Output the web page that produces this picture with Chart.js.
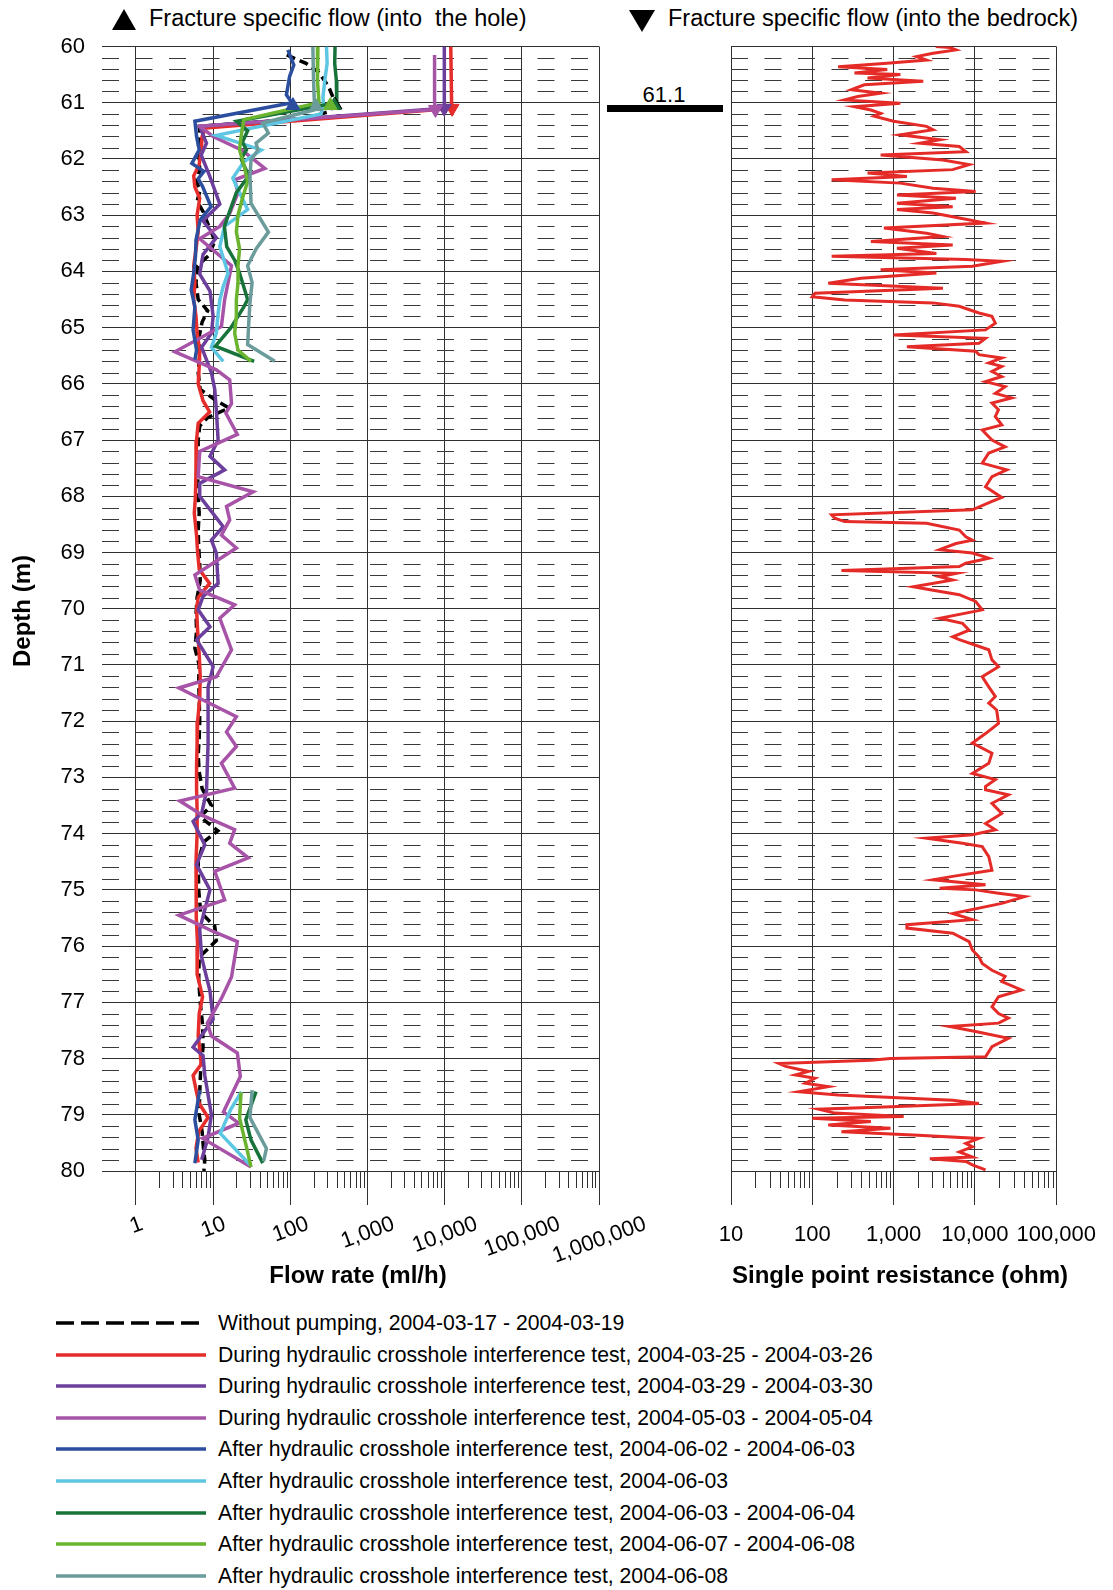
<!DOCTYPE html>
<html>
<head>
<meta charset="utf-8">
<title>Flow rate and single point resistance</title>
<script src="https://cdn.jsdelivr.net/npm/chart.js@4/dist/chart.umd.min.js"></script>
<style>
  body { margin: 0; background: #fff; width: 1113px; height: 1590px; position: relative; overflow: hidden;
         font-family: "Liberation Sans", Arial, Helvetica, sans-serif; color: #000; }
  .abs { position: absolute; white-space: pre; }
  canvas { position: absolute; top: 0; }
  .title { font-size: 23.5px; line-height: 23.5px; }
  .axisTitle { font-size: 24px; line-height: 24px; font-weight: bold; text-align: center; }
  .legendRow { font-size: 21.2px; line-height: 24px; height: 24px; }
  .legendRow svg { position: absolute; left: 0; top: 0; }
  .legendRow span { position: absolute; left: 162px; top: 0; }
</style>
</head>
<body>

<div class="abs" style="left:112px;top:9px;width:0;height:0;border-left:12px solid transparent;border-right:12px solid transparent;border-bottom:21px solid #000;"></div>
<div class="abs title" style="left:149px;top:7px;">Fracture specific flow (into  the hole)</div>
<div class="abs" style="left:629px;top:10px;width:0;height:0;border-left:13px solid transparent;border-right:13px solid transparent;border-top:22px solid #000;"></div>
<div class="abs title" style="left:668px;top:7px;">Fracture specific flow (into the bedrock)</div>

<div class="abs" style="left:614px;top:84px;width:100px;text-align:center;font-size:22px;line-height:22px;">61.1</div>
<div class="abs" style="left:607px;top:105px;width:116px;height:7px;background:#000;"></div>

<canvas id="flowChart" width="680" height="1290" style="left:0;width:680px;height:1290px;"></canvas>
<canvas id="resChart" width="413" height="1290" style="left:700px;width:413px;height:1290px;"></canvas>

<div class="abs axisTitle" style="left:208px;top:1263px;width:300px;">Flow rate (ml/h)</div>
<div class="abs axisTitle" style="left:700px;top:1263px;width:400px;">Single point resistance (ohm)</div>
<div class="abs axisTitle" style="left:-78px;top:599px;width:200px;transform:rotate(-90deg);">Depth (m)</div>

<div id="legend"></div>

<script>
const FONT = '"Liberation Sans", Arial, Helvetica, sans-serif';

// Legend / series
const seriesNames = [
  'Without pumping, 2004-03-17 - 2004-03-19',
  'During hydraulic crosshole interference test, 2004-03-25 - 2004-03-26',
  'During hydraulic crosshole interference test, 2004-03-29 - 2004-03-30',
  'During hydraulic crosshole interference test, 2004-05-03 - 2004-05-04',
  'After hydraulic crosshole interference test, 2004-06-02 - 2004-06-03',
  'After hydraulic crosshole interference test, 2004-06-03',
  'After hydraulic crosshole interference test, 2004-06-03 - 2004-06-04',
  'After hydraulic crosshole interference test, 2004-06-07 - 2004-06-08',
  'After hydraulic crosshole interference test, 2004-06-08'
];
const seriesColors = ['#000000', '#e52d2b', '#6c3f9c', '#a754a8', '#2c4e9f', '#5dc6e2', '#18733b', '#6ab42f', '#6b9c9b'];

// Tick labels
const flowTicks = [1, 10, 100, 1000, 10000, 100000, 1000000];
const resTicks = [10, 100, 1000, 10000, 100000];

// Flow rate (ml/h) against depth (m)
const noPumpDepth = [60.15, 60.3, 60.45, 60.7, 60.95, 61.15, 61.28, 61.42, 61.6, 61.8, 62.0, 62.2, 62.4, 62.55, 62.75, 62.95, 63.2, 63.45, 63.7, 63.9, 64.2, 64.5, 64.7, 64.9, 65.2, 65.5, 65.8, 66.1, 66.3, 66.43, 66.6, 66.75, 67.0, 67.3, 67.6, 68.0, 68.3, 68.6, 68.9, 69.2, 69.5, 69.8, 70.1, 70.4, 70.7, 71.0, 71.3, 71.6, 72.0, 72.3, 72.6, 72.9, 73.2, 73.5, 73.7, 73.95, 74.15, 74.5, 75.0, 75.4, 75.65, 75.9, 76.2, 76.6, 77.0, 77.4, 77.8, 78.2, 78.6, 79.0, 79.3, 79.6, 79.8, 80.0];
const noPumpFlow = [90, 160, 230, 310, 370, 330, 160, 6.6, 6.8, 6.4, 6.6, 6.7, 6.0, 6.8, 6.2, 7.5, 8.8, 10.5, 9.0, 6.3, 6.0, 6.4, 8.5, 7.2, 6.5, 6.7, 6.4, 6.8, 11, 16, 8.5, 6.7, 6.4, 6.4, 6.3, 6.4, 6.6, 6.4, 6.5, 6.7, 6.8, 6.2, 6.0, 6.1, 5.8, 6.6, 6.5, 6.6, 6.7, 6.6, 6.4, 6.6, 7.2, 9.5, 6.8, 11.5, 7.5, 6.4, 6.5, 6.9, 10.5, 11.0, 6.6, 6.5, 6.8, 7.3, 7.4, 6.9, 6.7, 6.6, 7.2, 7.5, 7.8, 7.6];

const test0325Depth = [60.0, 61.0, 61.1, 61.45, 61.6, 61.85, 62.1, 62.3, 62.5, 62.7, 63.0, 63.3, 63.6, 63.9, 64.2, 64.5, 64.8, 65.1, 65.4, 65.7, 66.0, 66.3, 66.5, 66.7, 67.0, 67.5, 68.0, 68.3, 68.7, 69.0, 69.3, 69.55, 69.8, 70.0, 70.4, 70.8, 71.2, 71.6, 72.0, 72.4, 72.8, 73.2, 73.6, 74.0, 74.5, 75.0, 75.5, 76.0, 76.5, 76.9, 77.2, 77.6, 77.9, 78.1, 78.3, 78.6, 78.8, 79.05, 79.3, 79.6, 79.85];
const test0325Flow = [12000, 12300, 12500, 8.0, 7.2, 7.0, 6.6, 5.6, 5.8, 6.7, 6.2, 6.4, 6.0, 5.6, 5.8, 5.6, 6.0, 6.2, 6.7, 6.6, 6.4, 7.4, 9.0, 6.4, 6.1, 6.0, 5.9, 5.7, 6.1, 6.3, 6.6, 9.0, 6.4, 6.1, 6.3, 6.6, 6.8, 6.7, 6.3, 6.2, 6.1, 6.1, 6.2, 6.2, 6.0, 6.0, 6.1, 6.3, 6.2, 7.3, 6.6, 6.4, 6.8, 7.0, 5.5, 6.1, 6.6, 8.6, 6.5, 6.0, 6.4];

const test0329Depth = [60.0, 61.0, 61.1, 61.42, 61.72, 61.93, 62.3, 62.8, 63.1, 63.4, 63.7, 64.05, 64.35, 64.8, 65.1, 65.35, 65.8, 66.1, 66.46, 67.0, 67.29, 67.53, 67.77, 68.0, 68.54, 68.78, 69.01, 69.55, 69.78, 70.02, 70.32, 70.55, 71.03, 71.39, 72.39, 73.25, 73.64, 73.78, 74.2, 74.55, 75.0, 75.7, 76.2, 76.8, 77.3, 77.8, 77.95, 78.3, 79.0, 79.4, 79.8];
const test0329Flow = [9900, 9900, 9900, 6.7, 8.2, 7.0, 9.0, 12.2, 7.4, 11.0, 7.4, 6.7, 9.1, 10.0, 9.5, 7.1, 9.5, 10.5, 11.0, 11.6, 9.1, 14.1, 6.7, 6.7, 13.5, 9.5, 11.0, 11.6, 7.4, 6.4, 9.1, 6.1, 10.0, 8.6, 8.6, 8.2, 7.1, 5.5, 7.8, 6.1, 9.1, 6.7, 7.1, 9.1, 10.0, 5.5, 7.4, 7.8, 9.5, 8.6, 7.1];

const test0503Depth = [60.15, 61.0, 61.12, 61.42, 61.6, 61.85, 62.17, 62.37, 62.6, 62.97, 63.2, 63.42, 63.9, 64.5, 64.98, 65.43, 65.75, 65.93, 66.35, 66.52, 66.9, 67.2, 67.65, 67.92, 68.18, 68.42, 68.69, 68.92, 69.4, 69.67, 69.93, 70.17, 70.73, 71.21, 71.41, 71.92, 72.19, 72.45, 72.75, 73.19, 73.42, 73.68, 73.93, 74.17, 74.43, 74.67, 75.18, 75.45, 75.74, 75.92, 76.55, 76.93, 77.37, 77.6, 77.9, 78.32, 78.95, 79.15, 79.42, 79.93];
const test0503Flow = [7400, 7400, 7600, 6.7, 10.0, 24, 46.8, 19, 21, 16.4, 12.2, 6.7, 17.3, 14.1, 12.8, 3.2, 11.0, 16.4, 17.3, 14.6, 20.6, 6.7, 6.4, 33, 14.9, 16.4, 12.8, 20.0, 5.8, 6.7, 19.0, 12.2, 17.3, 11.0, 3.6, 20.0, 14.9, 20.0, 12.8, 19.0, 3.7, 7.4, 19.0, 16.4, 28.5, 10.5, 14.1, 3.6, 10.0, 20.6, 17.3, 12.8, 8.4, 9.5, 20.6, 22.5, 13.6, 21.5, 7.3, 31];

const after0602Depth = [60.06, 60.33, 60.53, 60.86, 61.0, 61.33, 61.6, 61.84, 62.08, 62.22, 62.35, 62.49, 62.85, 63.08, 63.44, 63.74, 64.03, 64.33, 64.63, 65.04, 65.4, 65.57, null, 78.56, 79.09, 79.45, 79.86];
const after0602Flow = [93, 111, 98, 89, 105, 5.8, 6.1, 6.6, 5.3, 7.6, 6.4, 7.3, 9.4, 6.8, 6.0, 5.9, 5.6, 5.2, 5.8, 5.5, 6.1, 5.8, null, 6.7, 5.8, 6.4, 5.8];

const after0603Depth = [60.0, 60.3, 60.6, 60.9, 61.05, 61.2, 61.58, 61.84, 62.05, 62.34, 62.6, 62.9, 63.2, 63.56, 64.03, 64.27, 64.51, 64.8, 65.1, 65.35, 65.6, null, 78.59, 78.9, 79.33, 79.89];
const after0603Flow = [294, 300, 280, 265, 270, 250, 11, 42, 25, 18, 22, 28, 14, 12.2, 15.6, 13.5, 12.2, 11.5, 11, 9.5, 13.5, null, 23.3, 17, 12.4, 30];

const after0604Depth = [60.0, 60.3, 60.6, 61.0, 61.33, 61.5, 61.7, 61.84, 62.0, 62.3, 62.6, 62.97, 63.2, 63.56, 63.8, 64.03, 64.5, 64.63, 65.0, 65.33, 65.6, null, 78.59, 79.09, 79.45, 79.86];
const after0604Flow = [380, 376, 395, 400, 20, 28, 24, 27, 23, 29, 20, 16, 14, 15, 19, 22, 28, 25, 17, 10.7, 34, null, 36, 26.5, 31, 44];

const after0607Depth = [60.0, 60.6, 61.0, 61.3, 61.6, 61.84, 62.1, 62.4, 62.7, 63.0, 63.3, 63.6, 63.9, 64.2, 64.5, 64.8, 65.1, 65.4, 65.6, null, 78.6, 79.06, 79.57, 79.93];
const after0607Flow = [228, 225, 235, 25, 23, 22, 25, 28, 24, 21, 20, 22, 21, 21, 20, 20, 19, 21, 31, null, 23, 22, 27, 31];

const after0608Depth = [60.0, 60.6, 61.0, 61.13, 61.36, 61.54, 61.72, 61.84, 62.02, 62.3, 62.79, 63.3, 63.6, 63.9, 64.2, 64.55, 64.9, 65.3, 65.6, null, 78.56, 79.05, 79.6, 79.83];
const after0608Flow = [196, 200, 205, 200, 44, 52, 36, 38, 31, 30, 31, 52, 36, 28, 32, 30, 29, 28, 63, null, 32, 30, 49, 45];

// Fracture markers at 61.1 m
const bedrockMarkDepth = [61.1, 61.1, 61.12];
const bedrockMarkFlow = [12500, 9900, 7600];
const bedrockMarkColors = ['#e52d2b', '#6c3f9c', '#a754a8'];
const holeMarkDepth = [61.04, 61.05, 61.07, 61.05, 61.05];
const holeMarkFlow = [380, 108, 215, 370, 330];
const holeMarkColors = ['#000000', '#2c4e9f', '#6b9c9b', '#18733b', '#6ab42f'];

// Single point resistance (ohm) against depth (m)
const resDepth = [60.00, 60.02, 60.06, 60.12, 60.18, 60.24, 60.30, 60.36, 60.41, 60.47, 60.50, 60.56, 60.62, 60.68, 60.77, 60.83, 60.89, 60.95, 61.01, 61.07, 61.13, 61.19, 61.24, 61.33, 61.42, 61.48, 61.57, 61.66, 61.72, 61.78, 61.87, 61.93, 62.02, 62.10, 62.19, 62.25, 62.31, 62.37, 62.43, 62.52, 62.58, 62.64, 62.70, 62.79, 62.85, 62.90, 62.96, 63.05, 63.14, 63.23, 63.32, 63.38, 63.47, 63.53, 63.59, 63.68, 63.73, 63.79, 63.82, 63.91, 63.97, 64.03, 64.12, 64.21, 64.30, 64.39, 64.45, 64.51, 64.56, 64.62, 64.74, 64.80, 64.92, 65.04, 65.13, 65.19, 65.28, 65.34, 65.42, 65.48, 65.54, 65.63, 65.69, 65.78, 65.87, 65.96, 66.05, 66.17, 66.25, 66.34, 66.46, 66.58,
  66.73, 66.82, 67.00, 67.12, 67.23, 67.41, 67.53, 67.65, 67.83, 68.02, 68.09, 68.24, 68.33, 68.39, 68.45, 68.48, 68.60, 68.72, 68.78, 68.84, 68.95, 69.01, 69.10, 69.19, 69.25, 69.32, 69.37, 69.43, 69.49, 69.61, 69.67, 69.75, 69.87, 70.02, 70.17, 70.26, 70.38, 70.50, 70.55, 70.73, 70.91, 71.03, 71.21, 71.39, 71.56, 71.68, 71.80, 72.04, 72.22, 72.39, 72.57, 72.75, 72.93, 73.04, 73.16,
  73.22, 73.31, 73.46, 73.64, 73.82, 73.93, 74.02, 74.08, 74.17, 74.23, 74.41, 74.65, 74.76, 74.82, 74.91, 74.97, 75.00, 75.06, 75.12, 75.24, 75.42, 75.53, 75.62, 75.68, 75.77, 75.92, 76.07, 76.19, 76.31, 76.43, 76.54, 76.63, 76.78, 76.90, 77.08, 77.20, 77.28, 77.37, 77.43, 77.52, 77.64, 77.79, 77.97, 78.00, 78.03, 78.09, 78.14, 78.23, 78.29, 78.35, 78.44, 78.50, 78.59, 78.65, 78.74, 78.80, 78.86, 78.90, 78.97, 79.03, 79.06, 79.12, 79.18, 79.24, 79.30, 79.36, 79.42, 79.51, 79.57, 79.66, 79.75, 79.78, 79.83, 79.89, 79.98];
const resOhm = [3300, 5000, 5850, 3060, 1920, 2540, 834, 208, 834, 330, 1210, 478, 2315, 436, 301, 693, 362, 250, 1210, 330, 525, 693, 576, 1000, 2540, 3056, 1210, 3680, 2110, 6420, 7730, 693, 4040, 8480, 5330, 478, 1456, 173, 1210, 3056, 10200, 1100, 5850, 1100, 5330, 1100, 3056, 6420, 13500, 760, 2540, 4040, 525, 5330, 1100, 3355, 173, 7730, 21400, 9300, 693, 3355, 397, 157, 4040, 108, 100, 250, 3056, 6420, 11200, 16200, 17800, 13500, 1000, 13500, 11200, 1456, 10200, 11200, 21400, 14800, 21400, 16200, 21400, 13500, 23500, 17800, 28300, 16200, 19500, 17800,
  21400, 12300, 16200, 23500, 14800, 12300, 24600, 16200, 13500, 21400, 16200, 9300, 173, 189, 250, 2540, 6420, 7730, 9300, 5850, 3680, 9300, 14800, 7730, 6420, 228, 5850, 3680, 5330, 1753, 3056, 6420, 10200, 12300, 3680, 7040, 8480, 5330, 6420, 14800, 16200, 19500, 12300, 14800, 17800, 14800, 18500, 19500, 13500, 9300, 16200, 14800, 9300, 17800, 13500,
  13500, 25800, 16200, 21400, 13500, 17800, 9300, 2540, 7040, 12300, 14800, 16200, 5330, 3056, 13500, 3680, 10200, 19500, 41000, 21400, 5330, 9300, 1456, 1456, 5330, 8480, 9300, 11200, 12300, 16200, 23500, 21400, 37400, 19500, 16200, 19500, 25800, 19500, 4860, 10200, 25800, 16200, 13500, 915, 525, 39, 47, 90, 62, 108, 82, 157, 68, 208, 5330, 11200, 760, 119, 189, 1330, 100, 525, 157, 915, 228, 1753, 11200, 7730, 9300, 6420, 9300, 2790, 7730, 9300, 13500];

// dashed 0.2 m lines, minor log ticks and slanted labels
const logGrid = {
  id: 'logGrid',
  beforeDatasetsDraw(chart) {
    const { ctx, chartArea: a, scales: { y } } = chart;
    ctx.save();
    ctx.strokeStyle = '#3a3a3a';
    ctx.lineWidth = 1.2;
    ctx.setLineDash([17, 16.5]);
    for (let i = 1; i < 100; i++) {
      if (i % 5 === 0) continue;
      const py = Math.round(y.getPixelForValue(60 + i * 0.2)) + 0.5;
      ctx.beginPath();
      ctx.moveTo(a.left, py);
      ctx.lineTo(a.right, py);
      ctx.stroke();
    }
    ctx.restore();
  },
  afterDraw(chart, args, opts) {
    const { ctx, chartArea: a, scales: { x } } = chart;
    ctx.save();
    ctx.strokeStyle = '#303030';
    ctx.lineWidth = 1;
    for (let e = opts.from; e < opts.to; e++) {
      for (let k = 2; k < 10; k++) {
        const px = Math.round(x.getPixelForValue(k * Math.pow(10, e))) + 0.5;
        ctx.beginPath();
        ctx.moveTo(px, a.bottom);
        ctx.lineTo(px, a.bottom + 17);
        ctx.stroke();
      }
    }
    if (opts.slanted) {
      const ang = 20 * Math.PI / 180;
      ctx.font = '22px ' + FONT;
      ctx.fillStyle = '#000';
      ctx.textAlign = 'center';
      ctx.textBaseline = 'middle';
      opts.slanted.forEach(v => {
        const txt = v.toLocaleString('en-US');
        const w = ctx.measureText(txt).width;
        const h = w * Math.sin(ang) + 16 * Math.cos(ang);
        ctx.save();
        ctx.translate(x.getPixelForValue(v), a.bottom + 44 + h / 2);
        ctx.rotate(-ang);
        ctx.fillText(txt, 0, 1);
        ctx.restore();
      });
    }
    ctx.restore();
  }
};

const flowSets = [
  [noPumpDepth, noPumpFlow],
  [test0325Depth, test0325Flow],
  [test0329Depth, test0329Flow],
  [test0503Depth, test0503Flow],
  [after0602Depth, after0602Flow],
  [after0603Depth, after0603Flow],
  [after0604Depth, after0604Flow],
  [after0607Depth, after0607Flow],
  [after0608Depth, after0608Flow]
];

const flowDatasets = flowSets.map(([depth, flow], i) => ({
  label: seriesNames[i],
  data: depth.map((d, k) => ({ x: flow[k], y: d })),
  borderColor: seriesColors[i],
  borderWidth: 3.5,
  borderDash: i === 0 ? [9, 5] : [],
  pointRadius: 0,
  tension: 0,
  spanGaps: false,
  order: 10 - i
}));

flowDatasets.push({
  label: 'into the bedrock',
  data: bedrockMarkDepth.map((d, k) => ({ x: bedrockMarkFlow[k], y: d })),
  showLine: false,
  pointStyle: 'triangle',
  pointRotation: 180,
  pointRadius: 8,
  pointBorderWidth: 1,
  pointBackgroundColor: bedrockMarkColors,
  pointBorderColor: bedrockMarkColors,
  order: 0
});
flowDatasets.push({
  label: 'into the hole',
  data: holeMarkDepth.map((d, k) => ({ x: holeMarkFlow[k], y: d })),
  showLine: false,
  pointStyle: 'triangle',
  pointRadius: 8,
  pointBorderWidth: 1,
  pointBackgroundColor: holeMarkColors,
  pointBorderColor: holeMarkColors,
  order: 0
});

const gridColor = '#303030';

new Chart(document.getElementById('flowChart'), {
  type: 'line',
  data: { datasets: flowDatasets },
  plugins: [logGrid],
  options: {
    responsive: false,
    animation: false,
    indexAxis: 'y',
    layout: { padding: { left: 0, top: 46.5, right: 81, bottom: 0 }, autoPadding: false },
    plugins: {
      legend: { display: false },
      tooltip: { enabled: false },
      logGrid: { from: 0, to: 6, slanted: flowTicks }
    },
    scales: {
      x: {
        type: 'logarithmic',
        position: 'bottom',
        min: 0.363,
        max: 1000000,
        afterBuildTicks: s => { s.ticks = flowTicks.map(v => ({ value: v })); },
        afterFit: s => { s.height = 119; },
        ticks: { display: false },
        grid: { color: gridColor, tickColor: gridColor, tickLength: 34 },
        border: { color: gridColor }
      },
      y: {
        type: 'linear',
        min: 60,
        max: 80,
        reverse: true,
        afterFit: s => { s.width = 102; },
        ticks: { stepSize: 1, padding: 17, color: '#000', font: { family: FONT, size: 22 } },
        grid: { color: gridColor, drawTicks: false },
        border: { display: false }
      }
    }
  }
});

new Chart(document.getElementById('resChart'), {
  type: 'line',
  data: {
    datasets: [{
      label: 'Single point resistance',
      data: resDepth.map((d, k) => ({ x: resOhm[k], y: d })),
      borderColor: '#e52b27',
      borderWidth: 3,
      pointRadius: 0,
      tension: 0
    }]
  },
  plugins: [logGrid],
  options: {
    responsive: false,
    animation: false,
    indexAxis: 'y',
    layout: { padding: { left: 31, top: 46.5, right: 51, bottom: 0 }, autoPadding: false },
    plugins: {
      legend: { display: false },
      tooltip: { enabled: false },
      logGrid: { from: 1, to: 5, slanted: null }
    },
    scales: {
      x: {
        type: 'logarithmic',
        position: 'bottom',
        min: 10,
        max: 100000,
        afterBuildTicks: s => { s.ticks = resTicks.map(v => ({ value: v })); },
        afterFit: s => { s.height = 119; },
        ticks: {
          autoSkip: false, maxRotation: 0, minRotation: 0, padding: 17, color: '#000',
          font: { family: FONT, size: 22 },
          callback: v => Number(v).toLocaleString('en-US')
        },
        grid: { color: gridColor, tickColor: gridColor, tickLength: 34 },
        border: { color: gridColor }
      },
      y: {
        type: 'linear',
        min: 60,
        max: 80,
        reverse: true,
        afterFit: s => { s.width = 0; },
        ticks: { stepSize: 1, display: false },
        grid: { color: gridColor, drawTicks: false },
        border: { color: gridColor }
      }
    }
  }
});

// Legend
const legend = document.getElementById('legend');
seriesNames.forEach((name, i) => {
  const row = document.createElement('div');
  row.className = 'abs legendRow';
  row.style.left = '56px';
  row.style.top = (1323 + i * 31.6 - 12) + 'px';
  const dash = i === 0 ? ' stroke-dasharray="18 7"' : '';
  row.innerHTML = '<svg width="150" height="24"><line x1="0" y1="12" x2="150" y2="12" stroke="' +
    seriesColors[i] + '" stroke-width="3.5"' + dash + '/></svg><span>' + name + '</span>';
  legend.appendChild(row);
});
</script>
</body>
</html>
